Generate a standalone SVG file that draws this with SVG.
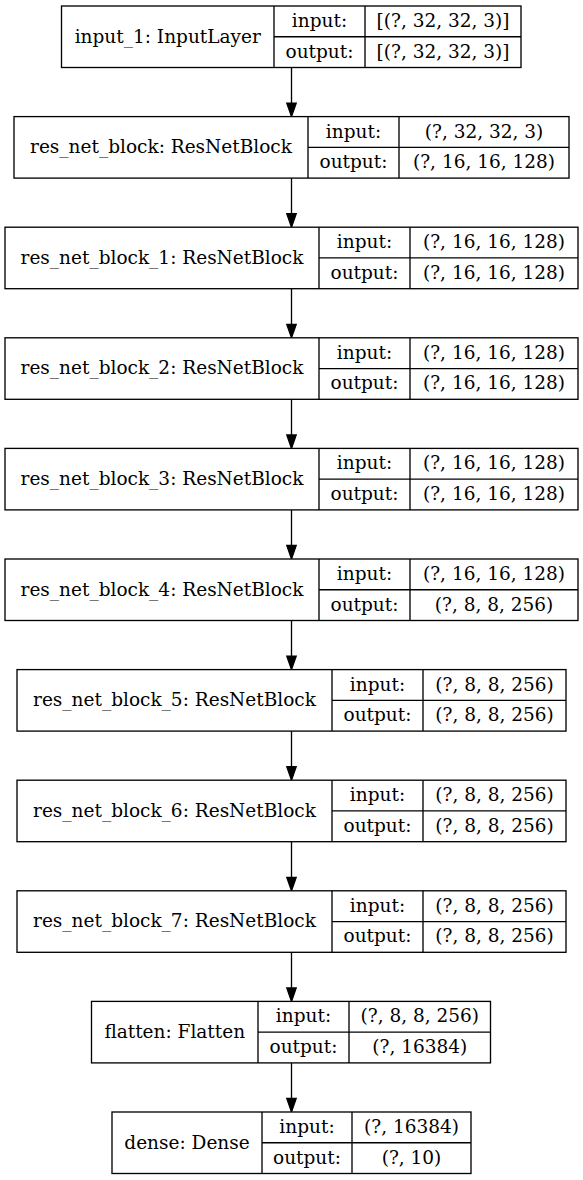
<svg xmlns="http://www.w3.org/2000/svg" width="583" height="1180" viewBox="0 0 583 1180">
<style>
.box{fill:#fff;stroke:#000;stroke-width:1.33}
.ln{stroke:#000;stroke-width:1.33;fill:none}
.t{font-family:"DejaVu Serif","Liberation Serif",serif;font-size:18.5px;fill:#000;text-anchor:middle}
.e{stroke:#000;stroke-width:1.33;fill:none}
.ah{fill:#000;stroke:#000;stroke-width:1.33}
</style>
<rect width="583" height="1180" fill="#fff"/>
<g id="connectors">
<line class="e" x1="291.5" y1="67.5" x2="291.5" y2="103.1"/><polygon class="ah" points="286.8,103.1 296.2,103.1 291.5,116.6"/>
<line class="e" x1="291.5" y1="178.1" x2="291.5" y2="213.7"/><polygon class="ah" points="286.8,213.7 296.2,213.7 291.5,227.2"/>
<line class="e" x1="291.5" y1="288.7" x2="291.5" y2="324.3"/><polygon class="ah" points="286.8,324.3 296.2,324.3 291.5,337.8"/>
<line class="e" x1="291.5" y1="399.3" x2="291.5" y2="434.9"/><polygon class="ah" points="286.8,434.9 296.2,434.9 291.5,448.4"/>
<line class="e" x1="291.5" y1="509.9" x2="291.5" y2="545.5"/><polygon class="ah" points="286.8,545.5 296.2,545.5 291.5,559"/>
<line class="e" x1="291.5" y1="620.5" x2="291.5" y2="656.1"/><polygon class="ah" points="286.8,656.1 296.2,656.1 291.5,669.6"/>
<line class="e" x1="291.5" y1="731.1" x2="291.5" y2="766.7"/><polygon class="ah" points="286.8,766.7 296.2,766.7 291.5,780.2"/>
<line class="e" x1="291.5" y1="841.7" x2="291.5" y2="877.3"/><polygon class="ah" points="286.8,877.3 296.2,877.3 291.5,890.8"/>
<line class="e" x1="291.5" y1="952.3" x2="291.5" y2="987.9"/><polygon class="ah" points="286.8,987.9 296.2,987.9 291.5,1001.4"/>
<line class="e" x1="291.5" y1="1062.9" x2="291.5" y2="1098.5"/><polygon class="ah" points="286.8,1098.5 296.2,1098.5 291.5,1112"/>
</g>
<g id="input_1" transform="translate(0,6)">
<rect class="box" x="61.5" y="0" width="459.5" height="61.5"/>
<line class="ln" x1="274" y1="0" x2="274" y2="61.5"/><line class="ln" x1="365" y1="0" x2="365" y2="61.5"/><line class="ln" x1="274" y1="30.75" x2="521" y2="30.75"/>
<text class="t" x="167.75" y="36.5">input_1: InputLayer</text>
<text class="t" x="319.5" y="21">input:</text><text class="t" x="319.5" y="51.7">output:</text>
<text class="t" x="443" y="21">[(?, 32, 32, 3)]</text><text class="t" x="443" y="51.7">[(?, 32, 32, 3)]</text>
</g>
<g id="res_net_block" transform="translate(0,116.6)">
<rect class="box" x="14" y="0" width="555" height="61.5"/>
<line class="ln" x1="308" y1="0" x2="308" y2="61.5"/><line class="ln" x1="399" y1="0" x2="399" y2="61.5"/><line class="ln" x1="308" y1="30.75" x2="569" y2="30.75"/>
<text class="t" x="161" y="36.5">res_net_block: ResNetBlock</text>
<text class="t" x="353.5" y="21">input:</text><text class="t" x="353.5" y="51.7">output:</text>
<text class="t" x="484" y="21">(?, 32, 32, 3)</text><text class="t" x="484" y="51.7">(?, 16, 16, 128)</text>
</g>
<g id="res_net_block_1" transform="translate(0,227.2)">
<rect class="box" x="5" y="0" width="573" height="61.5"/>
<line class="ln" x1="319" y1="0" x2="319" y2="61.5"/><line class="ln" x1="410" y1="0" x2="410" y2="61.5"/><line class="ln" x1="319" y1="30.75" x2="578" y2="30.75"/>
<text class="t" x="162" y="36.5">res_net_block_1: ResNetBlock</text>
<text class="t" x="364.5" y="21">input:</text><text class="t" x="364.5" y="51.7">output:</text>
<text class="t" x="494" y="21">(?, 16, 16, 128)</text><text class="t" x="494" y="51.7">(?, 16, 16, 128)</text>
</g>
<g id="res_net_block_2" transform="translate(0,337.8)">
<rect class="box" x="5" y="0" width="573" height="61.5"/>
<line class="ln" x1="319" y1="0" x2="319" y2="61.5"/><line class="ln" x1="410" y1="0" x2="410" y2="61.5"/><line class="ln" x1="319" y1="30.75" x2="578" y2="30.75"/>
<text class="t" x="162" y="36.5">res_net_block_2: ResNetBlock</text>
<text class="t" x="364.5" y="21">input:</text><text class="t" x="364.5" y="51.7">output:</text>
<text class="t" x="494" y="21">(?, 16, 16, 128)</text><text class="t" x="494" y="51.7">(?, 16, 16, 128)</text>
</g>
<g id="res_net_block_3" transform="translate(0,448.4)">
<rect class="box" x="5" y="0" width="573" height="61.5"/>
<line class="ln" x1="319" y1="0" x2="319" y2="61.5"/><line class="ln" x1="410" y1="0" x2="410" y2="61.5"/><line class="ln" x1="319" y1="30.75" x2="578" y2="30.75"/>
<text class="t" x="162" y="36.5">res_net_block_3: ResNetBlock</text>
<text class="t" x="364.5" y="21">input:</text><text class="t" x="364.5" y="51.7">output:</text>
<text class="t" x="494" y="21">(?, 16, 16, 128)</text><text class="t" x="494" y="51.7">(?, 16, 16, 128)</text>
</g>
<g id="res_net_block_4" transform="translate(0,559)">
<rect class="box" x="5" y="0" width="573" height="61.5"/>
<line class="ln" x1="319" y1="0" x2="319" y2="61.5"/><line class="ln" x1="410" y1="0" x2="410" y2="61.5"/><line class="ln" x1="319" y1="30.75" x2="578" y2="30.75"/>
<text class="t" x="162" y="36.5">res_net_block_4: ResNetBlock</text>
<text class="t" x="364.5" y="21">input:</text><text class="t" x="364.5" y="51.7">output:</text>
<text class="t" x="494" y="21">(?, 16, 16, 128)</text><text class="t" x="494" y="51.7">(?, 8, 8, 256)</text>
</g>
<g id="res_net_block_5" transform="translate(0,669.6)">
<rect class="box" x="17" y="0" width="549" height="61.5"/>
<line class="ln" x1="332" y1="0" x2="332" y2="61.5"/><line class="ln" x1="423" y1="0" x2="423" y2="61.5"/><line class="ln" x1="332" y1="30.75" x2="566" y2="30.75"/>
<text class="t" x="174.5" y="36.5">res_net_block_5: ResNetBlock</text>
<text class="t" x="377.5" y="21">input:</text><text class="t" x="377.5" y="51.7">output:</text>
<text class="t" x="494.5" y="21">(?, 8, 8, 256)</text><text class="t" x="494.5" y="51.7">(?, 8, 8, 256)</text>
</g>
<g id="res_net_block_6" transform="translate(0,780.2)">
<rect class="box" x="17" y="0" width="549" height="61.5"/>
<line class="ln" x1="332" y1="0" x2="332" y2="61.5"/><line class="ln" x1="423" y1="0" x2="423" y2="61.5"/><line class="ln" x1="332" y1="30.75" x2="566" y2="30.75"/>
<text class="t" x="174.5" y="36.5">res_net_block_6: ResNetBlock</text>
<text class="t" x="377.5" y="21">input:</text><text class="t" x="377.5" y="51.7">output:</text>
<text class="t" x="494.5" y="21">(?, 8, 8, 256)</text><text class="t" x="494.5" y="51.7">(?, 8, 8, 256)</text>
</g>
<g id="res_net_block_7" transform="translate(0,890.8)">
<rect class="box" x="17" y="0" width="549" height="61.5"/>
<line class="ln" x1="332" y1="0" x2="332" y2="61.5"/><line class="ln" x1="423" y1="0" x2="423" y2="61.5"/><line class="ln" x1="332" y1="30.75" x2="566" y2="30.75"/>
<text class="t" x="174.5" y="36.5">res_net_block_7: ResNetBlock</text>
<text class="t" x="377.5" y="21">input:</text><text class="t" x="377.5" y="51.7">output:</text>
<text class="t" x="494.5" y="21">(?, 8, 8, 256)</text><text class="t" x="494.5" y="51.7">(?, 8, 8, 256)</text>
</g>
<g id="flatten" transform="translate(0,1001.4)">
<rect class="box" x="91.5" y="0" width="399" height="61.5"/>
<line class="ln" x1="258" y1="0" x2="258" y2="61.5"/><line class="ln" x1="349" y1="0" x2="349" y2="61.5"/><line class="ln" x1="258" y1="30.75" x2="490.5" y2="30.75"/>
<text class="t" x="174.75" y="36.5">flatten: Flatten</text>
<text class="t" x="303.5" y="21">input:</text><text class="t" x="303.5" y="51.7">output:</text>
<text class="t" x="419.75" y="21">(?, 8, 8, 256)</text><text class="t" x="419.75" y="51.7">(?, 16384)</text>
</g>
<g id="dense" transform="translate(0,1112)">
<rect class="box" x="112" y="0" width="359" height="61.5"/>
<line class="ln" x1="262" y1="0" x2="262" y2="61.5"/><line class="ln" x1="352" y1="0" x2="352" y2="61.5"/><line class="ln" x1="262" y1="30.75" x2="471" y2="30.75"/>
<text class="t" x="187" y="36.5">dense: Dense</text>
<text class="t" x="307" y="21">input:</text><text class="t" x="307" y="51.7">output:</text>
<text class="t" x="411.5" y="21">(?, 16384)</text><text class="t" x="411.5" y="51.7">(?, 10)</text>
</g>
</svg>
